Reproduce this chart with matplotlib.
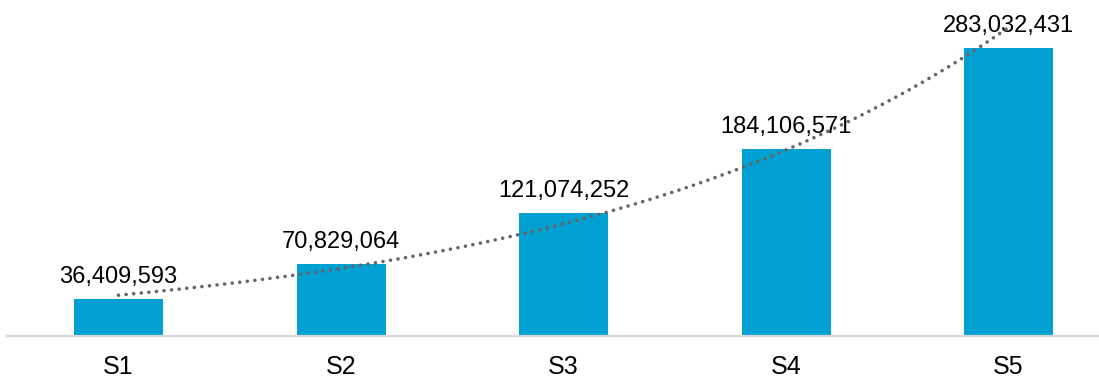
import numpy as np
import matplotlib.pyplot as plt

plt.rcParams["font.family"] = ["Liberation Sans", "DejaVu Sans"]

categories = ["S1", "S2", "S3", "S4", "S5"]
values = [36409593, 70829064, 121074252, 184106571, 283032431]

BAR_COLOR = "#00A0D2"
TREND_COLOR = "#666666"

fig = plt.figure(figsize=(10.99, 3.8), dpi=100)
# axes runs a little past the right edge of the canvas
ax = fig.add_axes([7.25 / 1099, 44 / 380, 1112.5 / 1099, 336 / 380])

x = np.arange(len(categories))
ax.bar(x, values, width=0.4, color=BAR_COLOR, zorder=2)

# exponential trendline fitted to the bar values
b, a = np.polyfit(x + 1, np.log(values), 1)
xs = np.linspace(0, len(categories) - 1, 200)
ax.plot(xs, np.exp(a + b * (xs + 1)), color=TREND_COLOR, lw=2.6,
        linestyle=(0, (0.01, 2.1)), dash_capstyle="round", zorder=4)

for xi, v in zip(x, values):
    ax.annotate(f"{v:,}", (xi, v), xytext=(0, 11.5), textcoords="offset points",
                ha="center", va="baseline", fontsize=17, color="black", zorder=3)

ax.set_xlim(-0.5, len(categories) - 0.5)
ax.set_ylim(0, 330e6)
ax.set_xticks(x)
ax.set_xticklabels(categories, fontsize=18)
ax.tick_params(axis="x", length=0, pad=14)
ax.set_yticks([])
for side in ("top", "right", "left"):
    ax.spines[side].set_visible(False)
ax.spines["bottom"].set_color("#D9D9D9")
ax.spines["bottom"].set_linewidth(1.6)

fig.savefig("out.png", dpi=100)
